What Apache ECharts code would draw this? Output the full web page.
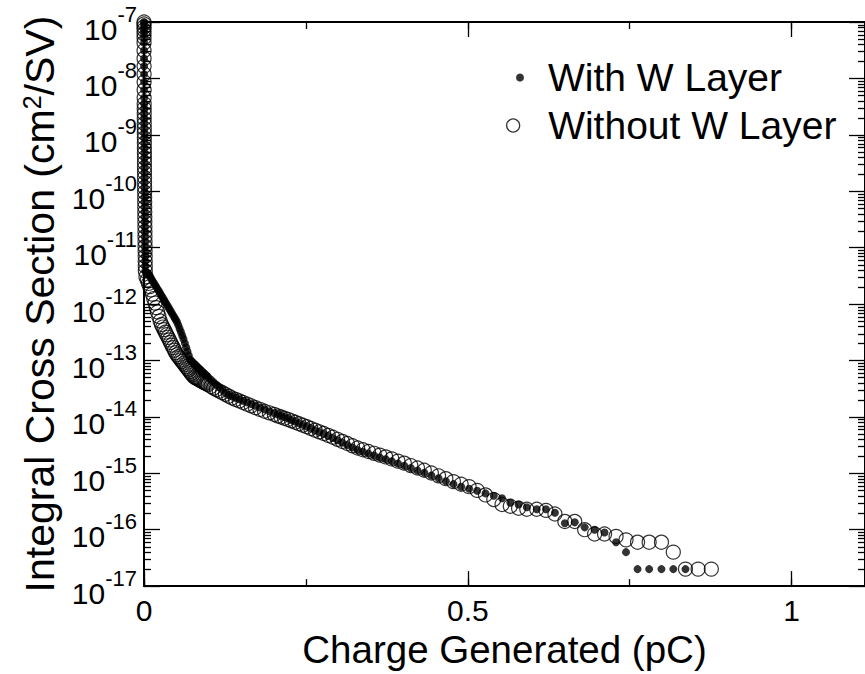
<!DOCTYPE html>
<html>
<head>
<meta charset="utf-8">
<script src="https://cdn.jsdelivr.net/npm/echarts@6/dist/echarts.min.js"></script>
<style>
html,body{margin:0;padding:0;background:#fff;}
#chart{width:865px;height:674px;}
</style>
</head>
<body>
<div id="chart"></div>
<script>
// ---------- data ----------
// near-zero charge column (shared by both series)
const chargeColumn = [0.00001,0.00002,0.00003,0.00004,0.00005,0.00006,0.00007,0.00009,0.00011,0.00013,0.00015,0.00018,0.00021,0.00024,0.00027,0.0003,0.00033,0.00036,0.0004,0.00044,0.00048,0.00052,0.00056,0.0006,0.00064,0.00068,0.00072,0.00076,0.0008,0.00085,0.0009,0.00095,0.001,0.00105,0.0011,0.00115,0.0012,0.00126,0.00132,0.00138,0.00144,0.0015,0.00157,0.00164,0.00171,0.00178,0.00186,0.00194,0.00202];
const sectionColumn = [1e-7,9.23e-8,8.18e-8,7.25e-8,6.17e-8,5.26e-8,4.30e-8,3.12e-8,2.26e-8,1.64e-8,1.19e-8,8.62e-9,6.25e-9,4.53e-9,3.56e-9,2.91e-9,2.38e-9,1.95e-9,1.59e-9,1.30e-9,1.07e-9,8.73e-10,7.13e-10,5.83e-10,4.77e-10,3.91e-10,3.19e-10,2.61e-10,2.14e-10,1.75e-10,1.43e-10,1.17e-10,9.57e-11,7.83e-11,6.40e-11,5.24e-11,4.29e-11,3.51e-11,2.87e-11,2.34e-11,1.92e-11,1.57e-11,1.28e-11,1.05e-11,8.59e-12,7.02e-12,5.74e-12,4.70e-12,3.85e-12];

// charge bins of the curve (pC)
const chargeCurve = [
0.003,0.005,0.007,0.009,0.011,0.013,0.015,0.017,0.019,0.021,
0.023,0.025,0.027,0.029,0.031,0.033,0.035,0.037,0.039,0.041,
0.043,0.045,0.047,0.049,0.051,0.053,0.055,0.057,0.059,0.061,
0.063,0.065,0.067,0.069,0.071,0.073,0.075,0.077,0.079,0.081,
0.083,0.085,0.087,0.089,0.091,0.093,0.095,0.097,0.099,
0.1034,0.1075,0.1118,0.1163,0.1209,0.1257,0.1308,0.1360,0.1414,0.1471,
0.1530,0.1591,0.1655,0.1721,0.1790,0.1861,0.1936,0.2013,0.2064,0.2115,
0.2168,0.2222,0.2278,0.2335,0.2393,0.2453,0.2514,0.2577,0.2642,0.2708,
0.2775,0.2845,0.2916,0.2989,0.3063,0.3140,0.3219,0.3299,0.3381,0.3466,
0.3553,0.3641,0.3732,0.3826,0.3921,0.4019,0.4120,0.4223,0.4328,0.4437,
0.4548,0.4661,0.4778,0.4897,0.5020,
0.5145,0.5273,0.5401,0.5528,0.5656,0.5784,0.5911,0.6064,0.6207,0.6345,
0.6498,0.6651,0.6804,0.6958,0.7111,0.7289,0.7443,0.7621,0.7800,0.7990,
0.8173,0.8361,0.8556,0.8760];

// Integral cross section (cm^2/SV) - With W Layer (filled dots)
const withLayer = [
3.72e-12,3.56e-12,3.40e-12,3.10e-12,2.84e-12,2.60e-12,2.39e-12,2.19e-12,2.00e-12,1.84e-12,
1.69e-12,1.54e-12,1.41e-12,1.29e-12,1.18e-12,1.08e-12,9.88e-13,9.04e-13,8.28e-13,7.55e-13,
6.90e-13,6.30e-13,5.77e-13,5.28e-13,4.81e-13,4.22e-13,3.66e-13,3.19e-13,2.77e-13,2.40e-13,
2.03e-13,1.72e-13,1.46e-13,1.24e-13,1.05e-13,9.84e-14,9.33e-14,8.87e-14,8.41e-14,7.98e-14,
7.59e-14,7.22e-14,6.85e-14,6.53e-14,6.19e-14,5.90e-14,5.61e-14,5.34e-14,5.07e-14,
4.57e-14,4.11e-14,3.71e-14,3.33e-14,2.99e-14,2.67e-14,2.45e-14,2.32e-14,2.19e-14,2.05e-14,
1.93e-14,1.81e-14,1.69e-14,1.57e-14,1.47e-14,1.36e-14,1.26e-14,1.16e-14,1.11e-14,1.05e-14,
9.96e-15,9.46e-15,8.83e-15,8.28e-15,7.73e-15,7.22e-15,6.75e-15,6.28e-15,5.81e-15,5.41e-15,
5.01e-15,4.60e-15,4.22e-15,3.85e-15,3.49e-15,3.17e-15,2.86e-15,2.59e-15,2.40e-15,2.23e-15,
2.07e-15,1.91e-15,1.77e-15,1.63e-15,1.49e-15,1.36e-15,1.24e-15,1.12e-15,1.02e-15,9.16e-16,
8.15e-16,7.24e-16,6.43e-16,5.79e-16,5.32e-16,
4.9e-16,4.4e-16,4.0e-16,3.6e-16,3.0e-16,2.8e-16,2.5e-16,2.3e-16,2.3e-16,2.0e-16,
1.3e-16,1.35e-16,1.1e-16,1.0e-16,8.9e-17,6e-17,4e-17,2e-17,2e-17,2e-17,
2e-17,2e-17,null,null];

// Integral cross section (cm^2/SV) - Without W Layer (open circles)
const withoutLayer = [
3.04e-12,2.67e-12,2.32e-12,2.04e-12,1.78e-12,1.50e-12,1.25e-12,1.04e-12,8.65e-13,7.22e-13,
6.03e-13,5.01e-13,4.34e-13,3.91e-13,3.52e-13,3.17e-13,2.85e-13,2.57e-13,2.32e-13,2.08e-13,
1.87e-13,1.69e-13,1.52e-13,1.37e-13,1.26e-13,1.17e-13,1.10e-13,1.02e-13,9.57e-14,8.93e-14,
8.34e-14,7.76e-14,7.24e-14,6.78e-14,6.32e-14,5.90e-14,5.52e-14,5.15e-14,4.97e-14,4.83e-14,
4.70e-14,4.57e-14,4.43e-14,4.30e-14,4.18e-14,4.05e-14,3.94e-14,3.83e-14,3.72e-14,
3.45e-14,3.24e-14,3.05e-14,2.86e-14,2.69e-14,2.51e-14,2.33e-14,2.16e-14,2.04e-14,1.92e-14,
1.80e-14,1.68e-14,1.57e-14,1.46e-14,1.36e-14,1.26e-14,1.18e-14,1.10e-14,1.04e-14,9.96e-15,
9.46e-15,9.02e-15,8.51e-15,8.02e-15,7.55e-15,7.11e-15,6.67e-15,6.22e-15,5.81e-15,5.43e-15,
5.07e-15,4.70e-15,4.35e-15,4.00e-15,3.67e-15,3.37e-15,3.07e-15,2.81e-15,2.61e-15,2.43e-15,
2.26e-15,2.10e-15,1.95e-15,1.80e-15,1.64e-15,1.51e-15,1.37e-15,1.24e-15,1.13e-15,1.01e-15,
9.02e-16,8.02e-16,7.11e-16,6.38e-16,5.79e-16,
4.97e-16,4.13e-16,3.42e-16,2.8e-16,2.6e-16,2.4e-16,2.3e-16,2.3e-16,2.2e-16,1.9e-16,
1.4e-16,1.4e-16,1.0e-16,8.4e-17,8.4e-17,7.6e-17,6.6e-17,6e-17,6e-17,6e-17,
4e-17,2e-17,2e-17,2e-17];

const seriesNames = ['With W Layer', 'Without W Layer'];
const xTickValues = [0, 0.5, 1];
const xTickLabels = ['0', '0.5', '1'];
const yMin = 1e-17, yMax = 1e-7;
const xMin = 0, xMax = 1.1133;

// ---------- build ----------
const FONT = "'Liberation Sans', Arial, Helvetica, sans-serif";
function pairs(col, colY, xs, ys) {
  const out = [];
  col.forEach((x, i) => out.push([x, colY[i]]));
  xs.forEach((x, i) => { if (ys[i] != null) out.push([x, ys[i]]); });
  return out;
}
const dataWith = pairs(chargeColumn, sectionColumn, chargeCurve, withLayer);
const dataWithout = pairs(chargeColumn, sectionColumn, chargeCurve, withoutLayer);

// minor log ticks 2..9 x 10^n
const minorTickVals = [];
for (let e = -17; e < -7; e++) for (let m = 2; m <= 9; m++) minorTickVals.push([0, m * Math.pow(10, e)]);

const chart = echarts.init(document.getElementById('chart'), null, {renderer: 'svg'});

const axisLine = {show: true, onZero: false, lineStyle: {color: '#000', width: 2}};
const xBase = {type: 'value', min: xMin, max: xMax, splitLine: {show: false}, axisLine: axisLine};
const tickStyle = {color: '#000', width: 1.3};

const option = {
  animation: false,
  backgroundColor: '#fff',
  textStyle: {fontFamily: FONT, color: '#000'},
  grid: {left: 144, right: -6, top: 22, bottom: 79, containLabel: false},
  legend: [
    {data: [{name: seriesNames[0], icon: 'circle', itemStyle: {color: '#000', borderWidth: 0}}],
     left: 516, top: 58, padding: 0, itemWidth: 46, itemHeight: 8, selectedMode: false,
     textStyle: {fontSize: 39, fontFamily: FONT, color: '#000'}},
    {data: [{name: seriesNames[1], icon: 'circle', itemStyle: {color: 'rgba(0,0,0,0)', borderColor: '#000', borderWidth: 1.3}}],
     left: 506, top: 106, padding: 0, itemWidth: 60, itemHeight: 13, selectedMode: false,
     textStyle: {fontSize: 39, fontFamily: FONT, color: '#000'}}
  ],
  xAxis: [
    Object.assign({}, xBase, {
      position: 'bottom', interval: 0.5,
      name: 'Charge Generated (pC)', nameLocation: 'middle', nameGap: 12,
      nameTextStyle: {fontSize: 38.5, fontFamily: FONT, color: '#000'},
      axisTick: {show: true, inside: true, length: 15, lineStyle: tickStyle},
      axisLabel: {show: true, margin: 9, fontSize: 30, fontFamily: FONT, color: '#000', showMaxLabel: false,
        formatter: v => { const i = xTickValues.indexOf(Math.round(v * 1000) / 1000); return i >= 0 ? xTickLabels[i] : ''; }}
    }),
    Object.assign({}, xBase, {
      position: 'top', interval: 0.5,
      axisTick: {show: true, inside: true, length: 15, lineStyle: tickStyle},
      axisLabel: {show: false}
    }),
    Object.assign({}, xBase, {
      position: 'bottom', interval: 0.25, axisLine: {show: false},
      axisTick: {show: true, inside: true, length: 7, lineStyle: tickStyle},
      axisLabel: {show: false}
    }),
    Object.assign({}, xBase, {
      position: 'top', interval: 0.25, axisLine: {show: false},
      axisTick: {show: true, inside: true, length: 7, lineStyle: tickStyle},
      axisLabel: {show: false}
    })
  ],
  yAxis: [
    {type: 'log', logBase: 10, min: yMin, max: yMax, interval: 1, position: 'left',
     splitLine: {show: false}, axisLine: axisLine,
     axisTick: {show: true, inside: true, length: 16, lineStyle: tickStyle},
     name: '{t|Integral Cross Section (cm}{sup|2}{t|/SV)}',
     nameLocation: 'middle', nameGap: 82,
     nameTextStyle: {fontFamily: FONT, color: '#000', fontSize: 41,
       rich: {
         t: {fontSize: 41, fontFamily: FONT, color: '#000', lineHeight: 41, verticalAlign: 'bottom'},
         sup: {fontSize: 25, fontFamily: FONT, color: '#000', lineHeight: 12, verticalAlign: 'top'}
       }},
     axisLabel: {show: true, margin: 7, interval: 0,
       formatter: v => '{b|10}{s|' + Math.round(Math.log10(v)) + '}',
       rich: {
         b: {fontSize: 30, fontFamily: FONT, color: '#000', lineHeight: 44, verticalAlign: 'bottom'},
         s: {fontSize: 22, fontFamily: FONT, color: '#000', verticalAlign: 'top', padding: [3, 0, 0, 0]}
       }}
    },
    {type: 'log', logBase: 10, min: yMin, max: yMax, interval: 1, position: 'right',
     splitLine: {show: false}, axisLine: axisLine,
     axisTick: {show: true, inside: true, length: 16, lineStyle: tickStyle},
     axisLabel: {show: false}}
  ],
  series: [
    {type: 'custom', name: 'minorTicks', xAxisIndex: 0, yAxisIndex: 0, silent: true, clip: false, z: 1,
     data: minorTickVals,
     renderItem: (params, api) => {
       const p = api.coord([0, api.value(1)]);
       const cs = params.coordSys;
       const y = Math.round(p[1]) + 0.5;
       return {type: 'group', children: [
         {type: 'line', shape: {x1: cs.x, y1: y, x2: cs.x + 7, y2: y}, style: {stroke: '#000', lineWidth: 1.3}},
         {type: 'line', shape: {x1: cs.x + cs.width, y1: y, x2: cs.x + cs.width - 7, y2: y}, style: {stroke: '#000', lineWidth: 1.3}}
       ]};
     }},
    {type: 'scatter', name: seriesNames[1], xAxisIndex: 0, yAxisIndex: 0, symbol: 'circle', symbolSize: 14,
     itemStyle: {color: 'rgba(0,0,0,0)', borderColor: '#000', borderWidth: 1.2},
     emphasis: {disabled: true}, data: dataWithout, z: 3},
    {type: 'scatter', name: seriesNames[0], xAxisIndex: 0, yAxisIndex: 0, symbol: 'circle', symbolSize: 8,
     itemStyle: {color: '#000', borderWidth: 0},
     emphasis: {disabled: true}, data: dataWith, z: 4}
  ]
};
chart.setOption(option);
</script>
</body>
</html>
